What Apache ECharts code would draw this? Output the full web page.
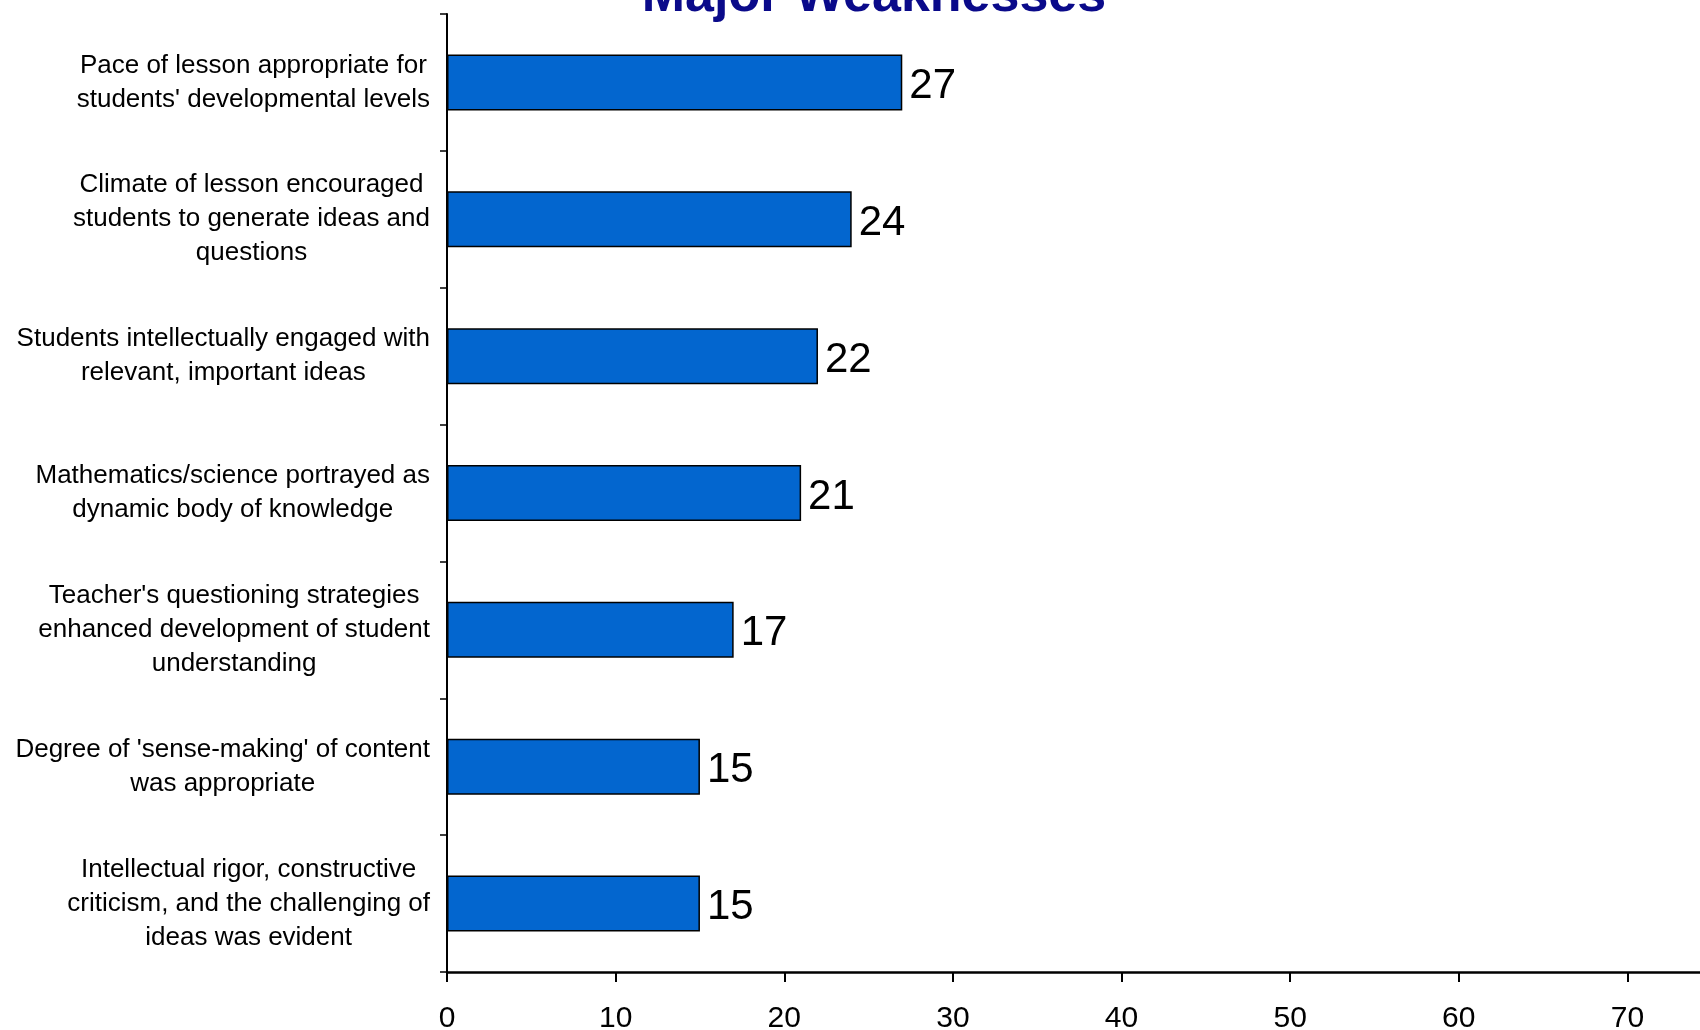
<!DOCTYPE html>
<html>
<head>
<meta charset="utf-8">
<script src="https://cdn.jsdelivr.net/npm/echarts@6/dist/echarts.min.js"></script>
<style>
html,body{margin:0;padding:0;background:#fff;}
#chart{width:1700px;height:1030px;}
</style>
</head>
<body>
<div id="chart"></div>
<script>
const titleText = "Major Weaknesses";
const categories = [
  "Pace of lesson appropriate for\nstudents' developmental levels",
  "Climate of lesson encouraged\nstudents to generate ideas and\nquestions",
  "Students intellectually engaged with\nrelevant, important ideas",
  "Mathematics/science portrayed as\ndynamic body of knowledge",
  "Teacher's questioning strategies\nenhanced development of student\nunderstanding",
  "Degree of 'sense-making' of content\nwas appropriate",
  "Intellectual rigor, constructive\ncriticism, and the challenging of\nideas was evident"
];
const values = [27, 24, 22, 21, 17, 15, 15];
const xMin = 0, xMax = 80, xStep = 10;

const FONT = "'Liberation Sans', Arial, sans-serif";
const chart = echarts.init(document.getElementById('chart'), null, {renderer: 'canvas'});
chart.setOption({
  backgroundColor: '#ffffff',
  animation: false,
  title: {
    text: titleText,
    left: 869,
    textAlign: 'center',
    top: -34,
    textStyle: {fontFamily: FONT, fontSize: 52, fontWeight: 'bold', color: '#0a0a8a'}
  },
  grid: {left: 447, right: -96, top: 14, bottom: 58, containLabel: false, outerBoundsMode: 'none'},
  xAxis: {
    type: 'value',
    min: xMin, max: xMax, interval: xStep,
    splitLine: {show: false},
    axisLine: {show: true, lineStyle: {color: '#000', width: 2.5}},
    axisTick: {show: true, length: 10, lineStyle: {color: '#000', width: 2}},
    axisLabel: {margin: 32, fontFamily: FONT, fontSize: 30, color: '#000'}
  },
  yAxis: {
    type: 'category',
    inverse: true,
    data: categories,
    axisLine: {show: true, lineStyle: {color: '#000', width: 2}},
    axisTick: {show: true, length: 7, lineStyle: {color: '#000', width: 1.5}},
    axisLabel: {
      margin: 17,
      align: 'right',
      verticalAlign: 'middle',
      formatter: function (v) {
        return v.split('\n').map(function (l) { return '{c|' + l + '}'; }).join('\n');
      },
      rich: {
        c: {align: 'center', fontFamily: FONT, fontSize: 26, lineHeight: 34, color: '#000'}
      }
    }
  },
  series: [{
    type: 'bar',
    data: values,
    barWidth: 56,
    itemStyle: {color: '#0366CF', borderColor: '#000', borderWidth: 1.5},
    label: {
      show: true, position: 'right', distance: 7, offset: [0, 4],
      fontFamily: FONT, fontSize: 42, color: '#000'
    }
  }]
});
</script>
</body>
</html>
